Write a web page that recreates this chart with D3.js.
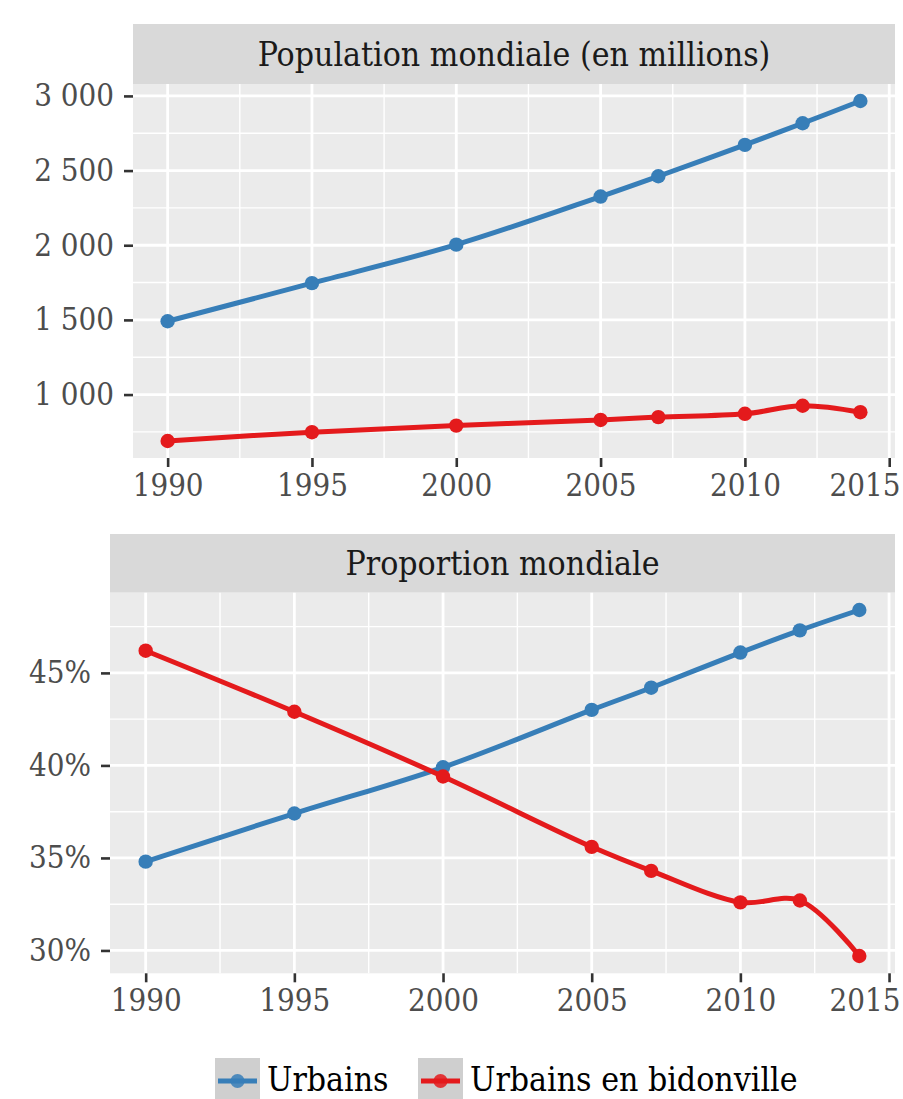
<!DOCTYPE html>
<html>
<head>
<meta charset="utf-8">
<script src="https://cdn.jsdelivr.net/npm/d3@7/dist/d3.min.js"></script>
<style>
  html, body { margin: 0; padding: 0; background: #ffffff; }
  svg { display: block; }
  text { font-family: "DejaVu Serif Condensed", "DejaVu Serif", serif; font-stretch: condensed; }
</style>
</head>
<body>
<svg id="chart" width="903" height="1099"></svg>
<script>
// ---- Data ----
const years = [1990, 1995, 2000, 2005, 2007, 2010, 2012, 2014];
const urbainsPop = [1491, 1746, 2004, 2326, 2462, 2672, 2817, 2966];
const bidonvillePop = [689, 748, 792, 830, 849, 871, 925, 882];
const urbainsPct = [34.8, 37.4, 39.9, 43.0, 44.2, 46.1, 47.3, 48.4];
const bidonvillePct = [46.2, 42.9, 39.4, 35.6, 34.3, 32.6, 32.7, 29.7];

const seriesNames = ["Urbains", "Urbains en bidonville"];
const seriesColors = ["#377EB8", "#E41A1C"];
const panelTitles = ["Population mondiale (en millions)", "Proportion mondiale"];

const xTicks = [1990, 1995, 2000, 2005, 2010, 2015];
const popTicks = [1000, 1500, 2000, 2500, 3000];
const popTickLabels = ["1 000", "1 500", "2 000", "2 500", "3 000"];
const pctTicks = [30, 35, 40, 45];
const pctTickLabels = ["30%", "35%", "40%", "45%"];

// ---- Layout ----
const svg = d3.select("#chart");
const FS_TICK = 31;
const FS_TEXT = 33.5;
const FAMILY = "DejaVu Serif Condensed, DejaVu Serif, serif";

function expand(ext, f) {
  const r = ext[1] - ext[0];
  return [ext[0] - f * r, ext[1] + f * r];
}

function drawPanel(cfg) {
  const { left, right, stripTop, top, bottom, series, yTicks, yLabels, title } = cfg;
  const g = svg.append("g");
  const x = d3.scaleLinear().domain(expand(d3.extent(years), 0.05)).range([left, right]);
  const allVals = series.flat();
  const y = d3.scaleLinear().domain(expand(d3.extent(allVals), 0.05)).range([bottom, top]);

  // strip
  g.append("rect").attr("x", left).attr("y", stripTop).attr("width", right - left)
    .attr("height", top - stripTop).attr("fill", "#D9D9D9");
  g.append("text").attr("x", (left + right) / 2).attr("y", (stripTop + top) / 2 + 11.8)
    .attr("text-anchor", "middle").attr("font-size", FS_TEXT).attr("fill", "#1A1A1A").text(title);

  // panel background
  g.append("rect").attr("x", left).attr("y", top).attr("width", right - left)
    .attr("height", bottom - top).attr("fill", "#EBEBEB");

  // minor grid
  const xd = x.domain(), yd = y.domain();
  const xMinor = xTicks.slice(0, -1).map((v, i) => (v + xTicks[i + 1]) / 2)
    .concat([xTicks[0] - 2.5, xTicks[xTicks.length - 1] + 2.5]).filter(v => v >= xd[0] && v <= xd[1]);
  const step = yTicks[1] - yTicks[0];
  const yMinor = [yTicks[0] - step / 2].concat(yTicks.map(v => v + step / 2)).filter(v => v >= yd[0] && v <= yd[1]);
  g.selectAll(".xminor").data(xMinor).join("line")
    .attr("x1", d => x(d)).attr("x2", d => x(d)).attr("y1", top).attr("y2", bottom)
    .attr("stroke", "#ffffff").attr("stroke-width", 1.4);
  g.selectAll(".yminor").data(yMinor).join("line")
    .attr("x1", left).attr("x2", right).attr("y1", d => y(d)).attr("y2", d => y(d))
    .attr("stroke", "#ffffff").attr("stroke-width", 1.4);
  // major grid
  g.selectAll(".xmajor").data(xTicks).join("line")
    .attr("x1", d => x(d)).attr("x2", d => x(d)).attr("y1", top).attr("y2", bottom)
    .attr("stroke", "#ffffff").attr("stroke-width", 2.8);
  g.selectAll(".ymajor").data(yTicks).join("line")
    .attr("x1", left).attr("x2", right).attr("y1", d => y(d)).attr("y2", d => y(d))
    .attr("stroke", "#ffffff").attr("stroke-width", 2.8);

  // lines and points
  const line = d3.line().x((d, i) => x(years[i])).y(d => y(d)).curve(d3.curveCatmullRom.alpha(0.5));
  series.forEach((s, k) => {
    g.append("path").attr("d", line(s)).attr("fill", "none")
      .attr("stroke", seriesColors[k]).attr("stroke-width", 5).attr("stroke-linecap", "butt");
    g.selectAll(".pt" + k).data(s).join("circle")
      .attr("cx", (d, i) => x(years[i])).attr("cy", d => y(d)).attr("r", 7.2)
      .attr("fill", seriesColors[k]);
  });

  // axes
  const ax = g.append("g").attr("transform", `translate(0,${bottom})`)
    .call(d3.axisBottom(x).tickValues(xTicks).tickFormat(d3.format("d")).tickSize(9).tickPadding(7));
  const ay = g.append("g").attr("transform", `translate(${left},0)`)
    .call(d3.axisLeft(y).tickValues(yTicks).tickFormat((d, i) => yLabels[i]).tickSize(9).tickPadding(10));
  [ax, ay].forEach(a => {
    a.select(".domain").remove();
    a.selectAll(".tick line").attr("stroke", "#333333").attr("stroke-width", 2.6);
    a.selectAll(".tick text").attr("font-size", FS_TICK).attr("fill", "#4D4D4D")
      .attr("font-family", FAMILY);
  });
  // keep the last x label inside the page, as in the reference
  ax.selectAll(".tick").filter(d => d === xTicks[xTicks.length - 1]).select("text")
    .attr("text-anchor", "end").attr("x", 900 - x(xTicks[xTicks.length - 1]));
}

drawPanel({
  left: 133, right: 895, stripTop: 24, top: 84, bottom: 458,
  series: [urbainsPop, bidonvillePop], yTicks: popTicks, yLabels: popTickLabels, title: panelTitles[0]
});
drawPanel({
  left: 110, right: 895, stripTop: 534, top: 592.7, bottom: 973.3,
  series: [urbainsPct, bidonvillePct], yTicks: pctTicks, yLabels: pctTickLabels, title: panelTitles[1]
});

// ---- Legend ----
const legendX = [215, 418];
const legend = svg.append("g");
seriesNames.forEach((name, k) => {
  const lx = legendX[k], ly = 1058;
  legend.append("rect").attr("x", lx).attr("y", ly).attr("width", 45).attr("height", 45)
    .attr("fill", "#CFCFCF");
  legend.append("line").attr("x1", lx + 3).attr("x2", lx + 42).attr("y1", ly + 23).attr("y2", ly + 23)
    .attr("stroke", seriesColors[k]).attr("stroke-width", 5);
  legend.append("circle").attr("cx", lx + 22.5).attr("cy", ly + 23).attr("r", 7)
    .attr("fill", seriesColors[k]).attr("opacity", 0.85);
  legend.append("text").attr("x", lx + 52).attr("y", ly + 33).attr("font-size", FS_TEXT)
    .attr("fill", "#000000").text(name);
});
</script>
</body>
</html>
